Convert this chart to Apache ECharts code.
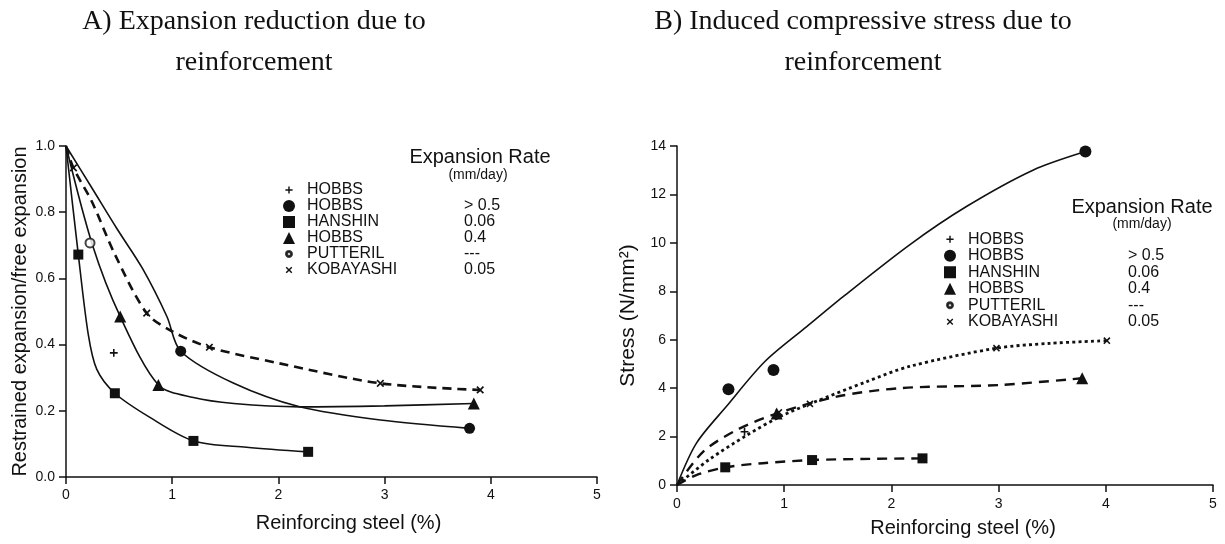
<!DOCTYPE html>
<html><head><meta charset="utf-8">
<script src="https://cdn.jsdelivr.net/npm/echarts@6/dist/echarts.min.js"></script>
<style>html,body{margin:0;padding:0;background:#fff}#c{width:1225px;height:544px}</style>
</head><body><div id="c"></div>
<script>
// ---------- shared labels ----------
const xTicks = [0, 1, 2, 3, 4, 5];
const aYTicks = [0, 0.2, 0.4, 0.6, 0.8, 1.0];
const bYTicks = [0, 2, 4, 6, 8, 10, 12, 14];
const seriesNames = ['HOBBS +', 'HOBBS ●', 'HANSHIN ■', 'HOBBS ▲', 'PUTTERIL o', 'KOBAYASHI x'];
const legendLabels = ['HOBBS', 'HOBBS', 'HANSHIN', 'HOBBS', 'PUTTERIL', 'KOBAYASHI'];
const expansionRates = ['', '> 0.5', '0.06', '0.4', '---', '0.05'];

// ---------- Panel A: restrained / free expansion ----------
const aPlus = [[0.45, 0.375]];
const aCircle = [[1.08, 0.38], [3.80, 0.147]];
const aCircleCurve = [[0, 1], [0.25, 0.87], [0.48, 0.75], [0.72, 0.63], [0.95, 0.485], [1.08, 0.38], [1.58, 0.283], [2.2, 0.212], [2.96, 0.172], [3.80, 0.147]];
const aSquare = [[0.116, 0.672], [0.46, 0.253], [1.2, 0.109], [2.28, 0.076]];
const aSquareCurve = [[0, 1], [0.116, 0.672], [0.21, 0.43], [0.29, 0.325], [0.46, 0.253], [0.79, 0.18], [1.2, 0.109], [1.7, 0.09], [2.28, 0.076]];
const aTriangle = [[0.51, 0.485], [0.87, 0.278], [3.84, 0.222]];
const aTriangleCurve = [[0, 1], [0.25, 0.70], [0.51, 0.485], [0.87, 0.278], [1.2, 0.24], [1.58, 0.222], [2.2, 0.212], [3.0, 0.215], [3.84, 0.222]];
const aOpen = [[0.226, 0.707]];
const aCross = [[0.07, 0.934], [0.76, 0.495], [1.35, 0.392], [2.96, 0.283], [3.9, 0.263]];
const aCrossCurve = [[0, 1], [0.07, 0.934], [0.242, 0.833], [0.461, 0.672], [0.76, 0.495], [1.0, 0.44], [1.35, 0.392], [2.0, 0.344], [2.96, 0.283], [3.9, 0.263]];

// ---------- Panel B: induced stress ----------
const bPlus = [[0.63, 2.2]];
const bCircle = [[0.48, 3.95], [0.90, 4.75], [3.81, 13.77]];
const bCircleCurve = [[0, 0], [0.18, 1.72], [0.46, 3.24], [0.82, 5.1], [1.21, 6.54], [1.55, 7.78], [2.17, 9.92], [2.70, 11.5], [3.32, 13.0], [3.81, 13.77]];
const bSquare = [[0.45, 0.73], [1.26, 1.03], [2.29, 1.10]];
const bSquareCurve = [[0, 0], [0.18, 0.41], [0.45, 0.73], [0.8, 0.9], [1.26, 1.03], [1.8, 1.08], [2.29, 1.10]];
const bTriangle = [[0.93, 2.95], [3.78, 4.41]];
const bTriangleCurve = [[0, 0], [0.245, 1.38], [0.557, 2.27], [0.93, 2.95], [1.49, 3.65], [2.08, 4.0], [3.01, 4.13], [3.78, 4.41]];
const bCross = [[0.95, 3.0], [1.24, 3.35], [2.98, 5.65], [4.01, 5.96]];
const bCrossCurve = [[0, 0], [0.3, 1.05], [0.65, 2.05], [0.95, 2.8], [1.24, 3.35], [1.77, 4.27], [2.17, 4.9], [2.98, 5.65], [3.48, 5.85], [4.01, 5.96]];

// ---------- styling ----------
const INK = '#111';
const SANS = '"Liberation Sans", Arial, Helvetica, sans-serif';
const SERIF = '"Liberation Serif", "Times New Roman", serif';
const PLUS = 'path://M0,0M20,20M8.8,4L11.2,4L11.2,8.8L16,8.8L16,11.2L11.2,11.2L11.2,16L8.8,16L8.8,11.2L4,11.2L4,8.8L8.8,8.8Z';
const CROSS = 'path://M0,0M20,20M4.5,6.2L6.2,4.5L10,8.3L13.8,4.5L15.5,6.2L11.7,10L15.5,13.8L13.8,15.5L10,11.7L6.2,15.5L4.5,13.8L8.3,10Z';
const RING = 'path://M0,0M20,20M10,5A5,5,0,1,1,9.99,5ZM10,6.8A3.2,3.2,0,1,0,10.01,6.8Z';
const legendIcons = [PLUS, 'circle', 'rect', 'triangle', RING, CROSS];

function xAxisCfg(gridIndex, nameGap, shift, labelMargin) {
  return {
    type: 'value', gridIndex: gridIndex, min: 0, max: 5, interval: 1,
    name: 'Reinforcing steel (%)', nameLocation: 'middle', nameGap: nameGap,
    nameTextStyle: { color: INK, fontSize: 20, fontFamily: SANS, padding: [0, 0, 0, shift] },
    axisLine: { show: true, onZero: false, lineStyle: { color: INK, width: 1.5 } },
    axisTick: { show: true, inside: false, length: 7, lineStyle: { color: INK, width: 1.5 } },
    axisLabel: { color: INK, fontSize: 14, fontFamily: SANS, margin: labelMargin,
      formatter: function (v) { return xTicks.indexOf(v) >= 0 ? String(v) : ''; } },
    splitLine: { show: false }
  };
}
function yAxisCfg(gridIndex, max, interval, name, nameSize, nameGap, ticks, digits) {
  return {
    type: 'value', gridIndex: gridIndex, min: 0, max: max, interval: interval,
    name: name, nameLocation: 'middle', nameGap: nameGap,
    nameTextStyle: { color: INK, fontSize: nameSize, fontFamily: SANS },
    axisLine: { show: true, onZero: false, lineStyle: { color: INK, width: 1.5 } },
    axisTick: { show: true, inside: false, length: 7, lineStyle: { color: INK, width: 1.5 } },
    axisLabel: { color: INK, fontSize: 14, fontFamily: SANS, margin: 11,
      formatter: function (v) { return v.toFixed(digits); } },
    splitLine: { show: false }
  };
}

function markers(idx, name, data, symbol, size, extra) {
  return Object.assign({
    type: 'scatter', name: name, xAxisIndex: idx, yAxisIndex: idx, data: data,
    symbol: symbol, symbolSize: size, z: 5,
    itemStyle: { color: INK, opacity: 1 }, emphasis: { disabled: true }
  }, extra || {});
}
function curve(idx, name, data, type, width, dash) {
  return {
    type: 'line', name: name, xAxisIndex: idx, yAxisIndex: idx, data: data,
    showSymbol: false, symbol: 'none', smooth: 0.3, z: 3,
    lineStyle: { color: INK, width: width, type: dash ? dash : type, cap: 'butt' },
    itemStyle: { color: INK }, emphasis: { disabled: true }
  };
}

const series = [
  markers(0, seriesNames[0], aPlus, PLUS, 13),
  markers(0, seriesNames[1], aCircle, 'circle', 11),
  markers(0, seriesNames[2], aSquare, 'rect', 10),
  markers(0, seriesNames[3], aTriangle, 'triangle', 12),
  markers(0, seriesNames[4], aOpen, 'emptyCircle', 9, { itemStyle: { color: INK, borderColor: INK, borderWidth: 1.5 } }),
  markers(0, seriesNames[5], aCross, CROSS, 14),
  curve(0, seriesNames[1], aCircleCurve, 'solid', 1.6),
  curve(0, seriesNames[2], aSquareCurve, 'solid', 1.6),
  curve(0, seriesNames[3], aTriangleCurve, 'solid', 1.6),
  curve(0, seriesNames[5], aCrossCurve, 'dashed', 2.6, [9, 6]),
  markers(1, seriesNames[0], bPlus, PLUS, 13),
  markers(1, seriesNames[1], bCircle, 'circle', 12),
  markers(1, seriesNames[2], bSquare, 'rect', 10),
  markers(1, seriesNames[3], bTriangle, 'triangle', 12),
  markers(1, seriesNames[5], bCross, CROSS, 13),
  curve(1, seriesNames[1], bCircleCurve, 'solid', 1.6),
  curve(1, seriesNames[2], bSquareCurve, 'dashed', 2.4, [10, 7]),
  curve(1, seriesNames[3], bTriangleCurve, 'dashed', 2.4, [10, 7]),
  curve(1, seriesNames[5], bCrossCurve, 'dotted', 2.8, [3, 3.2])
];

function legendCfg(left, top, pitch, nameWidth) {
  return {
    orient: 'vertical', left: left, top: top, padding: 0, itemGap: 0,
    itemWidth: 12, itemHeight: 12, selectedMode: false,
    data: seriesNames.map(function (n, i) { return { name: n, icon: legendIcons[i] }; }),
    formatter: function (n) {
      const i = seriesNames.indexOf(n);
      return '{s|}{n|' + legendLabels[i] + '}{r|' + expansionRates[i] + '}';
    },
    textStyle: {
      color: INK, fontFamily: SANS, fontSize: 16, lineHeight: pitch,
      rich: {
        s: { width: 7, lineHeight: pitch },
        n: { width: nameWidth, fontSize: 16, fontFamily: SANS, color: INK, lineHeight: pitch },
        r: { fontSize: 16, fontFamily: SANS, color: INK, lineHeight: pitch }
      }
    }
  };
}

function txt(x, y, text, font) {
  return { type: 'text', x: x, y: y, silent: true,
    style: { text: text, font: font, fill: INK, textAlign: 'center', textVerticalAlign: 'middle', align: 'center', verticalAlign: 'middle' } };
}

const option = {
  backgroundColor: '#fff',
  animation: false,
  grid: [
    { left: 66, right: 628, top: 146, bottom: 67 },
    { left: 677, right: 12, top: 146, bottom: 59 }
  ],
  xAxis: [xAxisCfg(0, 36, 34, 11), xAxisCfg(1, 33, 36, 12)],
  yAxis: [
    yAxisCfg(0, 1.0, 0.2, 'Restrained expansion/free expansion', 20, 36, aYTicks, 1),
    yAxisCfg(1, 14, 2, 'Stress (N/mm²)', 21, 38, bYTicks, 0)
  ],
  legend: [legendCfg(282, 182, 15.6, 157), legendCfg(943, 231, 16.5, 160)],
  graphic: [
    txt(254, 22, 'A) Expansion reduction due to', '28px ' + SERIF),
    txt(254, 63, 'reinforcement', '28px ' + SERIF),
    txt(863, 22, 'B) Induced compressive stress due to', '28px ' + SERIF),
    txt(863, 63, 'reinforcement', '28px ' + SERIF),
    txt(480, 157, 'Expansion Rate', '20px ' + SANS),
    txt(478, 175, '(mm/day)', '14px ' + SANS),
    txt(1142, 207, 'Expansion Rate', '20px ' + SANS),
    txt(1142, 224, '(mm/day)', '14px ' + SANS)
  ],
  series: series
};

const chart = echarts.init(document.getElementById('c'), null, { renderer: 'canvas' });
chart.setOption(option);
</script>
</body></html>
